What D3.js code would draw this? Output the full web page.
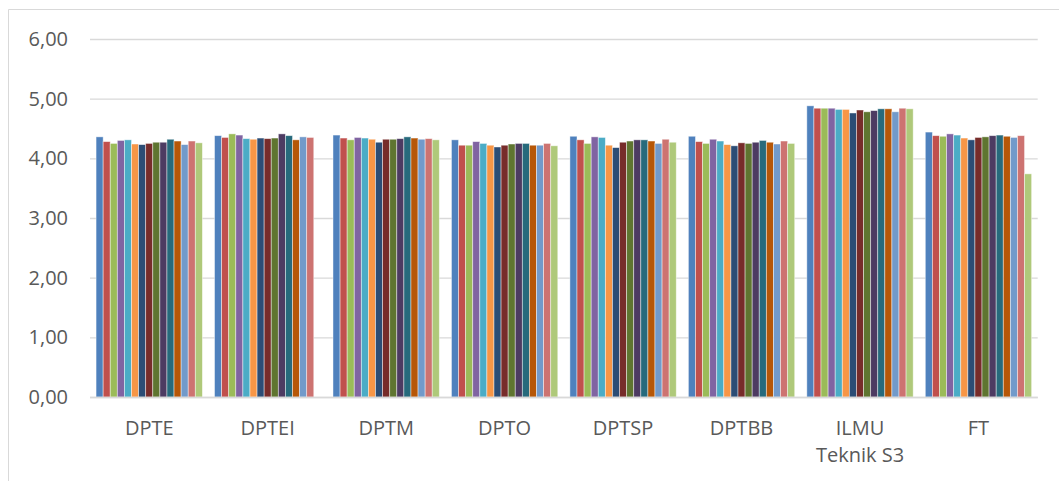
<!DOCTYPE html>
<html><head><meta charset="utf-8">
<script src="https://cdn.jsdelivr.net/npm/d3@7/dist/d3.min.js"></script>
<style>body{margin:0;background:#fff}svg{display:block}</style>
</head><body><svg id="c" width="1059" height="481"></svg>
<script>
const categories = ["DPTE","DPTEI","DPTM","DPTO","DPTSP","DPTBB","ILMU\nTeknik S3","FT"];
const seriesNames = ["S1","S2","S3","S4","S5","S6","S7","S8","S9","S10","S11","S12","S13","S14","S15"];
const colors = ["#4F81BD","#C0504D","#9BBB59","#8064A2","#4BACC6","#F79646","#2C4D75","#772C2A","#5F7530","#4D3B62","#276A7C","#B65708","#729ACA","#CD7371","#AFC97A"];
const valDPTE  = [4.36,4.28,4.25,4.30,4.31,4.24,4.23,4.25,4.27,4.27,4.32,4.29,4.23,4.29,4.26];
const valDPTEI = [4.38,4.35,4.41,4.39,4.33,4.32,4.34,4.33,4.34,4.41,4.38,4.31,4.36,4.35,null];
const valDPTM  = [4.39,4.34,4.31,4.35,4.34,4.32,4.27,4.32,4.32,4.33,4.36,4.34,4.32,4.33,4.31];
const valDPTO  = [4.31,4.22,4.22,4.28,4.25,4.22,4.19,4.22,4.24,4.25,4.25,4.22,4.22,4.25,4.21];
const valDPTSP = [4.37,4.31,4.25,4.36,4.35,4.22,4.18,4.27,4.29,4.31,4.31,4.29,4.25,4.32,4.27];
const valDPTBB = [4.37,4.28,4.25,4.32,4.29,4.23,4.21,4.26,4.25,4.27,4.30,4.27,4.24,4.29,4.25];
const valILMU  = [4.88,4.84,4.84,4.84,4.82,4.82,4.76,4.81,4.78,4.80,4.83,4.83,4.78,4.84,4.83];
const valFT    = [4.44,4.38,4.37,4.41,4.39,4.34,4.31,4.35,4.36,4.38,4.39,4.37,4.35,4.38,3.74];
const yTicks = [0,1,2,3,4,5,6];
const tickLabels = ["0,00","1,00","2,00","3,00","4,00","5,00","6,00"];
const values = [valDPTE,valDPTEI,valDPTM,valDPTO,valDPTSP,valDPTBB,valILMU,valFT];

const svg = d3.select("#c");
const L = 90, R = 1037.7, T = 39, B = 397;
const font = "'Open Sans', sans-serif";
const txt = "#595959", grid = "#D9D9D9";

// chart border (left and top visible)
svg.append("path").attr("d","M8.5,481 L8.5,9.5 L1059,9.5").attr("fill","none").attr("stroke",grid).attr("stroke-width",1);

const y = d3.scaleLinear().domain([0,6]).range([B,T]);
const x0 = d3.scaleBand().domain(categories).range([L,R]).paddingInner(0).paddingOuter(0);
const x1 = d3.scaleBand().domain(seriesNames).range([0,x0.bandwidth()]).paddingInner(0).paddingOuter(0.855);

// gridlines
const yAxis = d3.axisLeft(y).tickValues(yTicks).tickSize(-(R-L)).tickFormat((d,i)=>tickLabels[i]).tickPadding(22);
const gy = svg.append("g").attr("transform",`translate(${L},0)`).call(yAxis);
gy.select(".domain").remove();
gy.selectAll(".tick line").attr("stroke",grid).attr("stroke-width",1.3);
gy.selectAll(".tick text").attr("fill",txt).style("font-family",font).style("font-size","20px");

// bars
const g = svg.append("g");
categories.forEach((c,ci)=>{
  const gg = g.append("g").attr("transform",`translate(${x0(c)},0)`);
  values[ci].forEach((v,si)=>{
    if(v==null) return;
    gg.append("rect").attr("x",x1(seriesNames[si])).attr("width",x1.bandwidth())
      .attr("y",y(v)).attr("height",y(0)-y(v)).attr("fill",colors[si])
      .attr("stroke","#fff").attr("stroke-opacity",0.55).attr("stroke-width",0.8);
  });
});

// x axis line
svg.append("line").attr("x1",L).attr("x2",R).attr("y1",B+0.5).attr("y2",B+0.5).attr("stroke",grid).attr("stroke-width",1.5);

// x labels
const xAxis = d3.axisBottom(x0).tickSize(0).tickFormat("");
svg.append("g").attr("transform",`translate(0,${B})`).call(xAxis).select(".domain").remove();
categories.forEach(c=>{
  const lines = c.split("\n");
  const t = svg.append("text").attr("x",x0(c)+x0.bandwidth()/2).attr("y",434.5)
    .attr("text-anchor","middle").attr("fill",txt).style("font-family",font).style("font-size","20px");
  lines.forEach((ln,i)=>t.append("tspan").attr("x",x0(c)+x0.bandwidth()/2).attr("dy",i?27:0).text(ln));
});
</script></body></html>
